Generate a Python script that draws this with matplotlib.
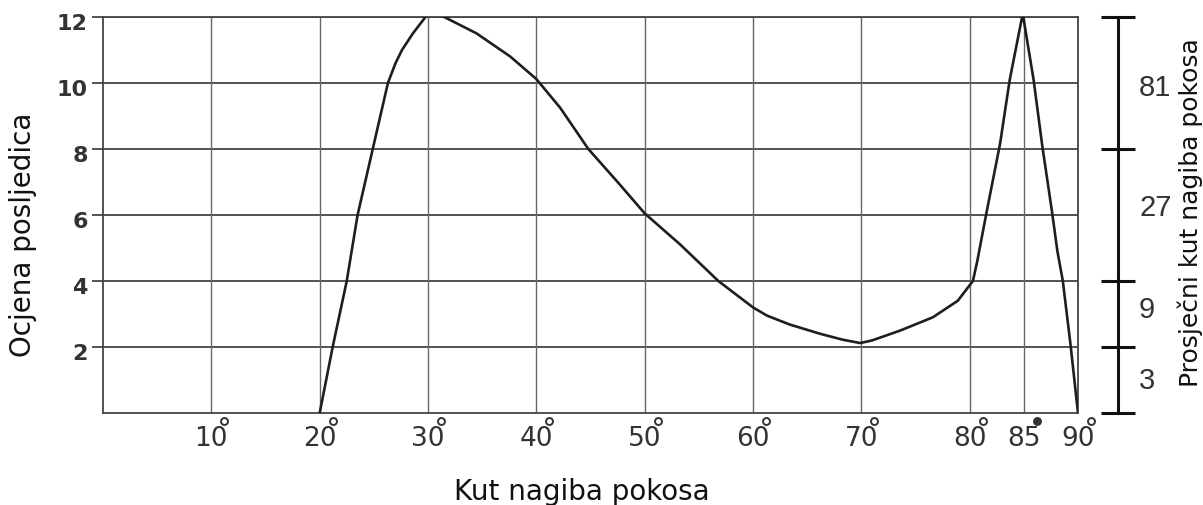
import matplotlib
matplotlib.use('Agg')
import matplotlib.pyplot as plt
from matplotlib.transforms import ScaledTranslation, offset_copy

# data
angle = [20, 21.2, 22.5, 23.5, 24.9, 25.6, 26.3, 27.0, 27.6, 28.6, 30, 31.5, 34.5,
         37.6, 40, 42.2, 44.8, 47.5, 50, 53.3, 56.8, 60, 61.3, 63.4, 66.2,
         68.3, 69.9, 71, 73.6, 76.6, 78.9, 80.3, 80.7, 81.6, 82.8, 83.7, 84.9,
         85.9, 86.7, 87.6, 88.1, 88.6, 89.3, 90]
score = [0, 2, 4, 6, 8, 9.0, 10, 10.6, 11, 11.5, 12.1, 12, 11.5,
         10.8, 10.12, 9.25, 8.0, 7.0, 6.05, 5.1, 4.0, 3.2, 2.95, 2.68, 2.4,
         2.22, 2.12, 2.2, 2.5, 2.9, 3.4, 4.0, 4.6, 6.15, 8.15, 10.1, 12.1,
         10.1, 8.1, 6.1, 4.9, 4.0, 2.1, 0]

x_ticks = [10, 20, 30, 40, 50, 60, 70, 80, 85, 90]
y_ticks = [2, 4, 6, 8, 10, 12]
right_ticks = [0, 2, 4, 8, 12]
right_label_pos = [1.05, 3.2, 6.3, 9.95]
right_labels = ['3', '9', '27', '81']

fig = plt.figure(figsize=(12.03, 5.05), dpi=100)
ax = fig.add_axes([103 / 1203, 1 - 413 / 505, 975 / 1203, 396 / 505])
ax.set_xlim(0, 90)
ax.set_ylim(0, 12)

# grid
for y in y_ticks:
    ax.axhline(y, color='#444444', lw=1.3, zorder=1)
for x in x_ticks[:-1]:
    ax.axvline(x, color='#666666', lw=1.0, zorder=1)
for s in ax.spines.values():
    s.set_color('#444444')
    s.set_linewidth(1.3)

ax.plot(angle, score, color='#1e1e1e', lw=1.9, zorder=3, solid_joinstyle='round')

# y ticks
ax.set_yticks(y_ticks)
ax.set_yticklabels([str(v) for v in y_ticks], fontsize=16, fontweight='bold', color='#333333')
ax.tick_params(axis='y', length=8, width=1.3, color='#444444', pad=3)
for lab in ax.get_yticklabels():
    lab.set_transform(lab.get_transform() + ScaledTranslation(0, -0.05, fig.dpi_scale_trans))

# x ticks with degree circles
ax.set_xticks(x_ticks)
ax.set_xticklabels([str(v) for v in x_ticks], fontsize=19, color='#333333')
ax.tick_params(axis='x', length=0, pad=9)
deg_tr = offset_copy(ax.get_xaxis_transform(), fig=fig, x=13, y=-8, units='dots')
for x in x_ticks:
    face = '#333333' if x == 85 else 'white'
    ax.plot([x], [0], marker='o', ms=5, mfc=face, mec='#333333', mew=1.4,
            transform=deg_tr, clip_on=False, zorder=4)

# right-hand scale bar
ax2 = ax.twinx()
ax2.set_ylim(0, 12)
for k in ['left', 'top', 'bottom']:
    ax2.spines[k].set_visible(False)
ax2.spines['right'].set_position(('outward', 29))
ax2.spines['right'].set_linewidth(2.2)
ax2.spines['right'].set_color('#111111')
ax2.set_yticks(right_ticks)
ax2.set_yticklabels([])
ax2.tick_params(axis='y', which='major', direction='inout', length=25, width=2.2, color='#111111')
ax2.set_yticks(right_label_pos, minor=True)
ax2.set_yticklabels(right_labels, minor=True, fontsize=21, color='#333333',
                    family='Liberation Sans')
ax2.tick_params(axis='y', which='minor', length=0, pad=15)

fig.text(582 / 1203, 1 - 500 / 505, 'Kut nagiba pokosa', fontsize=20,
         ha='center', va='baseline', color='#111111')
fig.text(23 / 1203, 1 - 235 / 505, 'Ocjena posljedica', fontsize=20, rotation=90,
         ha='center', va='center', color='#111111')
fig.text(1190 / 1203, 1 - 213 / 505, 'Prosječni kut nagiba pokosa', fontsize=18,
         rotation=90, ha='center', va='center', color='#111111')

fig.savefig('out.png', dpi=100)
